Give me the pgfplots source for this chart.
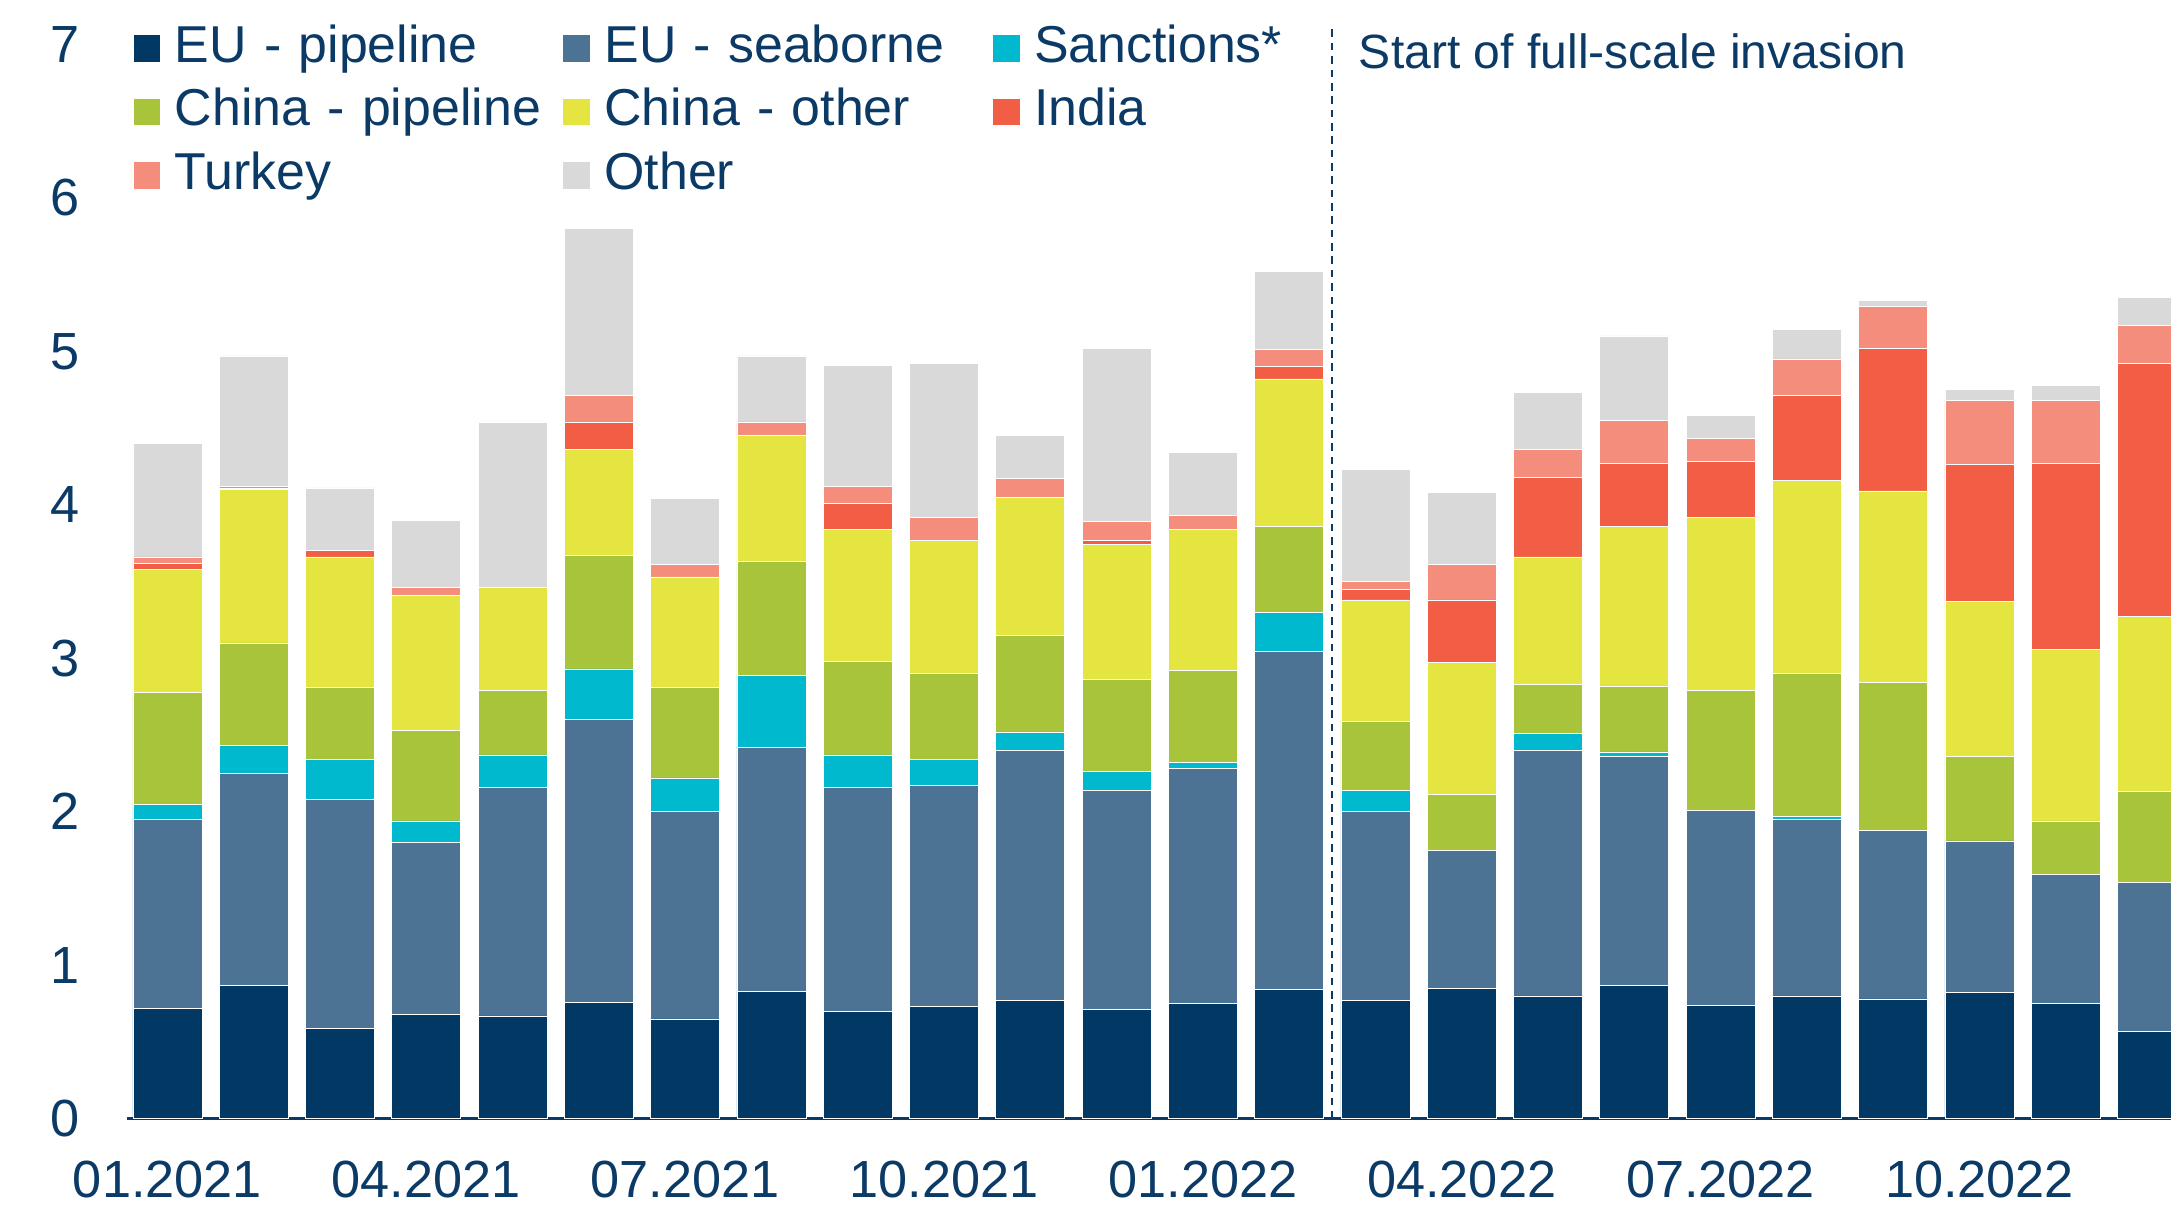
\documentclass[border=0pt]{standalone}
\usepackage{pgfplots}
\pgfplotsset{compat=1.18}
\usepackage{pgfplotstable}
\usepackage{fontspec}
\setmainfont{Liberation Sans}
\definecolor{navy}{HTML}{0B3A66}
\definecolor{cEUpipe}{HTML}{023864}
\definecolor{cEUsea}{HTML}{4D7394}
\definecolor{cSanc}{HTML}{00B9CF}
\definecolor{cCNpipe}{HTML}{A7C43A}
\definecolor{cCNother}{HTML}{E4E541}
\definecolor{cIndia}{HTML}{F15D45}
\definecolor{cTurkey}{HTML}{F58D7C}
\definecolor{cOther}{HTML}{D9D9D9}
\pgfplotstableread{
x pipe sea sanc cpipe cother india turkey other
1 0.72 1.23 0.10 0.73 0.80 0.04 0.04 0.74
2 0.87 1.38 0.18 0.67 1.00 0.01 0.01 0.85
3 0.59 1.49 0.26 0.47 0.85 0.04 0.00 0.41
4 0.68 1.12 0.14 0.59 0.88 0.00 0.05 0.44
5 0.67 1.49 0.21 0.42 0.67 0.00 0.00 1.08
6 0.76 1.84 0.33 0.74 0.69 0.18 0.17 1.09
7 0.65 1.35 0.22 0.59 0.72 0.00 0.08 0.43
8 0.83 1.59 0.47 0.74 0.82 0.00 0.09 0.43
9 0.70 1.46 0.21 0.61 0.86 0.17 0.11 0.79
10 0.73 1.44 0.17 0.56 0.87 0.00 0.15 1.00
11 0.77 1.63 0.12 0.63 0.90 0.00 0.12 0.28
12 0.71 1.43 0.12 0.60 0.88 0.03 0.12 1.13
13 0.75 1.53 0.04 0.60 0.92 0.00 0.09 0.41
14 0.84 2.205 0.255 0.56 0.96 0.08 0.11 0.51
15 0.77 1.23 0.14 0.45 0.79 0.07 0.05 0.73
16 0.85 0.90 0.00 0.36 0.86 0.41 0.23 0.47
17 0.80 1.60 0.11 0.32 0.83 0.52 0.18 0.37
18 0.87 1.49 0.03 0.43 1.04 0.41 0.28 0.55
19 0.74 1.27 0.00 0.78 1.13 0.36 0.15 0.15
20 0.80 1.15 0.02 0.93 1.26 0.55 0.24 0.19
21 0.78 1.10 0.00 0.96 1.25 0.93 0.27 0.04
22 0.82 0.99 0.00 0.55 1.01 0.89 0.42 0.07
23 0.75 0.84 0.00 0.35 1.12 1.21 0.41 0.10
24 0.57 0.97 0.00 0.59 1.14 1.65 0.25 0.18
}\data
\begin{document}
\begin{tikzpicture}
\path[use as bounding box] (0,0) rectangle (20cm,11.11cm);
\begin{axis}[
  at={(1.173cm,0.804cm)}, anchor=south west,
  scale only axis, width=18.827cm, height=9.898cm,
  ybar stacked, bar width=0.8,
  legend image code/.code={\fill[#1] (0cm,-0.1275cm) rectangle (0.255cm,0.1275cm);},
  clip mode=individual,
  xmin=0.535, xmax=24.22, ymin=0, ymax=7,
  xtick={1,4,7,10,13,16,19,22},
  xticklabels={01.2021,04.2021,07.2021,10.2021,01.2022,04.2022,07.2022,10.2022},
  ytick={0,1,2,3,4,5,6,7},
  axis x line*=bottom, axis y line*=left,
  x axis line style={-, draw=navy, line width=0.9pt},
  y axis line style={draw=none},
  major tick length=0pt,
  /pgf/number format/assume math mode=true,
  xticklabel style={font=\fontsize{13.7}{16}\selectfont, text=navy, anchor=north, inner sep=0pt, yshift=-0.38cm},
  yticklabel style={font=\fontsize{13.7}{16}\selectfont, text=navy, anchor=east, inner sep=0pt, xshift=-0.43cm},
  legend columns=3,
  legend cell align=left,
  legend style={
    at={(rel axis cs:0,1)}, anchor=north west, xshift=0.05cm, yshift=0.195cm,
    draw=none, fill=none, inner sep=0pt, outer sep=0pt,
    font=\fontsize{13.6}{16}\selectfont, text=navy,
    row sep=0.127cm,
    nodes={inner sep=0pt, text height=0.36cm, text depth=0.1cm},
    /tikz/every odd column/.append style={column sep=0.125cm},
    /tikz/every even column/.append style={text width=3.571cm},
  },
]
\addplot[fill=cEUpipe, draw=white, line width=0.2pt] table[x=x,y=pipe]{\data};
\addlegendentry{EU - pipeline}
\addplot[fill=cEUsea, draw=white, line width=0.2pt] table[x=x,y=sea]{\data};
\addlegendentry{EU - seaborne}
\addplot[fill=cSanc, draw=white, line width=0.2pt] table[x=x,y=sanc]{\data};
\addlegendentry{Sanctions*}
\addplot[fill=cCNpipe, draw=white, line width=0.2pt] table[x=x,y=cpipe]{\data};
\addlegendentry{China - pipeline}
\addplot[fill=cCNother, draw=white, line width=0.2pt] table[x=x,y=cother]{\data};
\addlegendentry{China - other}
\addplot[fill=cIndia, draw=white, line width=0.2pt] table[x=x,y=india]{\data};
\addlegendentry{India}
\addplot[fill=cTurkey, draw=white, line width=0.2pt] table[x=x,y=turkey]{\data};
\addlegendentry{Turkey}
\addplot[fill=cOther, draw=white, line width=0.2pt] table[x=x,y=other]{\data};
\addlegendentry{Other}
\draw[navy, line width=0.6pt, dash pattern=on 2pt off 1.5pt] (axis cs:14.5,0) -- (axis cs:14.5,7.1);
\node[anchor=base west, inner sep=0pt, font=\fontsize{12.6}{15}\selectfont, text=navy] at (axis cs:14.80,6.844) {Start of full-scale invasion};
\end{axis}
\end{tikzpicture}
\end{document}
